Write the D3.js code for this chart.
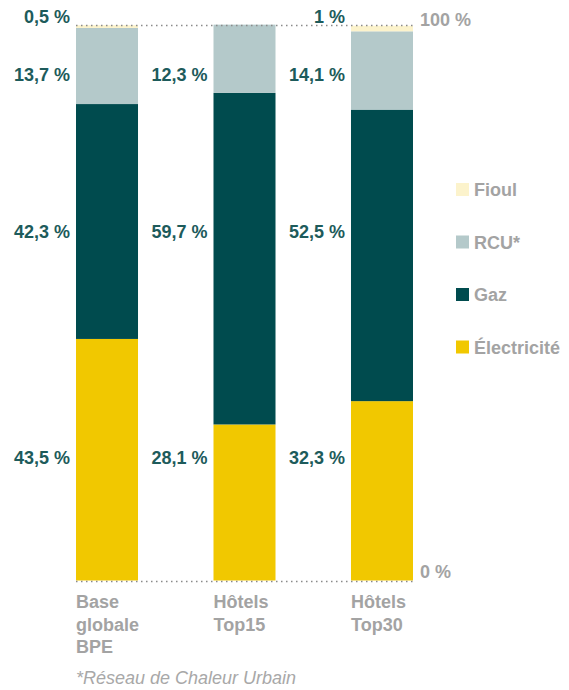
<!DOCTYPE html>
<html><head><meta charset="utf-8">
<script src="https://cdn.jsdelivr.net/npm/d3@7"></script>
<style>
html,body{margin:0;padding:0;background:#fff;}
svg{display:block;font-family:"Liberation Sans",Arial,Helvetica,sans-serif;}
</style></head>
<body>
<svg id="chart" width="569" height="690"></svg>
<script>
// ---- data ----
const categories = ["Base globale BPE", "Hôtels Top15", "Hôtels Top30"];
const categoryLines = [["Base", "globale", "BPE"], ["Hôtels", "Top15"], ["Hôtels", "Top30"]];
const seriesKeys = ["Électricité", "Gaz", "RCU*", "Fioul"];
const electricite = [43.5, 28.1, 32.3];
const gaz = [42.3, 59.7, 52.5];
const rcu = [13.7, 12.3, 14.1];
const fioul = [0.5, 0, 1];
const axisTicks = [0, 100];
const tickLabels = ["0 %", "100 %"];
const footnote = "*Réseau de Chaleur Urbain";

// ---- styles / layout ----
const colors = {"Électricité": "#f1c800", "Gaz": "#004b4e", "RCU*": "#b4c9ca", "Fioul": "#fcf3cc"};
const labelColor = "#1d5b5b";
const grey = "#a3a3a3";
const labelBaseline = {"Fioul": 23, "RCU*": 81, "Gaz": 238, "Électricité": 464};

const rows = categories.map((c, i) => ({
  cat: c,
  "Électricité": electricite[i], "Gaz": gaz[i], "RCU*": rcu[i], "Fioul": fioul[i]
}));

const svg = d3.select("#chart");
const x = d3.scaleBand().domain(categories).range([76, 413]).paddingInner(0.549).paddingOuter(0);
const y = d3.scaleLinear().domain([0, 100]).range([580.5, 25.2]);

const stacked = d3.stack().keys(seriesKeys)(rows);

// bars
const layers = svg.append("g").selectAll("g").data(stacked).join("g")
  .attr("fill", d => colors[d.key]);
layers.selectAll("rect").data(d => d.map(v => ({v, key: d.key})))
  .join("rect")
  .attr("x", d => x(d.v.data.cat))
  .attr("width", x.bandwidth())
  .attr("y", d => y(d.v[1]))
  .attr("height", d => Math.max(0, y(d.v[0]) - y(d.v[1])));

// dotted lines at 0% and 100%
svg.append("g").selectAll("line").data(axisTicks).join("line")
  .attr("x1", x.range()[0]).attr("x2", x.range()[1])
  .attr("y1", d => Math.round(y(d)) + 0.5).attr("y2", d => Math.round(y(d)) + 0.5)
  .attr("stroke", "#8a8a8a").attr("stroke-width", 1.5)
  .attr("stroke-dasharray", "1.5,3.5");

// axis tick labels
svg.append("g").selectAll("text").data(axisTicks).join("text")
  .attr("x", 420)
  .attr("y", d => d === 0 ? y(d) - 2.5 : y(d) + 1)
  .attr("fill", grey).attr("font-size", 18).attr("font-weight", "bold")
  .text((d, i) => tickLabels[i]);

// value labels
const fmt = v => String(v).replace(".", ",") + " %";
stacked.forEach(layer => {
  svg.append("g").selectAll("text")
    .data(layer.filter(v => v.data[layer.key] > 0))
    .join("text")
    .attr("x", v => x(v.data.cat) - 6)
    .attr("y", labelBaseline[layer.key])
    .attr("text-anchor", "end")
    .attr("fill", labelColor).attr("font-size", 18).attr("font-weight", "bold")
    .text(v => fmt(v.data[layer.key]));
});

// category labels
const catG = svg.append("g").selectAll("text").data(categories).join("text")
  .attr("x", d => x(d))
  .attr("y", 608)
  .attr("fill", grey).attr("font-size", 18).attr("font-weight", "bold");
catG.selectAll("tspan").data((d, i) => categoryLines[i]).join("tspan")
  .attr("x", function() { return d3.select(this.parentNode).attr("x"); })
  .attr("dy", (d, i) => i === 0 ? 0 : 22.5)
  .text(d => d);

// legend
const legendKeys = seriesKeys.slice().reverse();
const leg = svg.append("g").selectAll("g").data(legendKeys).join("g")
  .attr("transform", (d, i) => `translate(456,${183 + i * 52.5})`);
leg.append("rect").attr("width", 13).attr("height", 13).attr("fill", d => colors[d]);
leg.append("text").attr("x", 18).attr("y", 13)
  .attr("fill", grey).attr("font-size", 18).attr("font-weight", "bold")
  .text(d => d);

// footnote
svg.append("text").attr("x", 76).attr("y", 684)
  .attr("fill", "#a8a8a8").attr("font-size", 18).attr("font-style", "italic")
  .text(footnote);
</script>
</body></html>
